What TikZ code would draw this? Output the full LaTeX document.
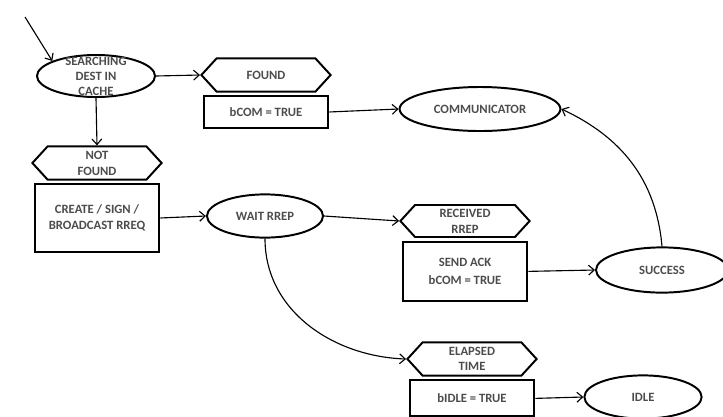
\documentclass[tikz,border=0pt]{standalone}
\usepackage{fontspec}
\setmainfont{Carlito}
\usepackage{tikz}
\usetikzlibrary{positioning,shapes.geometric,shapes.symbols,arrows.meta}

\tikzset{
	txt/.style={font=\fontsize{9}{11}\selectfont\bfseries, text=black!70, align=center},
	state/.style={txt, ellipse, draw, line width=1.4pt, inner sep=0pt},
	cond/.style={txt, signal, signal to=east and west, signal pointer angle=95, draw, line width=1.4pt, minimum width=3.23cm, minimum height=0.83cm, inner sep=0pt},
	act/.style={txt, rectangle, draw, line width=1.4pt, minimum width=3.12cm, inner sep=0pt},
	conn/.style={-{Straight Barb[length=4pt,width=7pt]}, line width=0.8pt}
}

\begin{document}
\begin{tikzpicture}[x=0.025cm,y=-0.025cm,node distance=0.07cm]
	\useasboundingbox (0,0) rectangle (723,416);
	\clip (0,0) rectangle (723,416);

	\node [state, minimum width=2.95cm, minimum height=1.05cm, label={[txt, font=\fontsize{9}{10.6}\selectfont\bfseries]center:SEARCHING\\DEST IN\\CACHE}] (search) at (96,76) {};
	\node [cond] (found) at (266,75) {FOUND};
	\node [act, minimum height=0.78cm, below=of found] (bcom) {bCOM = TRUE};
	\node [state, minimum width=4.02cm, minimum height=1.1cm] (comm) at (480,109) {COMMUNICATOR};

	\node [cond, font=\fontsize{9}{11.3}\selectfont\bfseries] (notfound) at (97,163) {NOT\\FOUND};
	\node [act, minimum height=1.68cm, below=of notfound] (create) {CREATE / SIGN /\\BROADCAST RREQ};
	\node [state, minimum width=2.9cm, minimum height=1.08cm] (wait) at (265,216) {WAIT RREP};

	\node [cond, minimum height=0.8cm, font=\fontsize{9}{11.3}\selectfont\bfseries] (received) at (465,221) {RECEIVED\\RREP};
	\node [act, minimum height=1.48cm, below=of received, font=\fontsize{9}{12.8}\selectfont\bfseries] (sendack) {SEND ACK\\bCOM = TRUE};
	\node [state, minimum width=3.3cm, minimum height=1.13cm] (success) at (662,270) {SUCCESS};

	\node [cond, font=\fontsize{9}{10.5}\selectfont\bfseries] (elapsed) at (472,359) {ELAPSED\\TIME};
	\node [act, minimum height=0.9cm, below=of elapsed] (bidle) {bIDLE = TRUE};
	\node [state, minimum width=2.93cm, minimum height=1.08cm] (idle) at (643,397) {IDLE};

	\coordinate (start) at (25,17);

	\draw [conn] (start) -- (search.161);
	\draw [conn] (search.east) -- (found.west);
	\draw [conn] (search.south) -- (notfound.north);
	\draw [conn] (bcom.east) -- (comm.west);
	\draw [conn] (create.east) -- (wait.west);
	\draw [conn] (wait.east) -- (received.west);
	\draw [conn] (wait.south) to[out=-90,in=178] (elapsed.west);
	\draw [conn] (sendack.east) -- (success.west);
	\draw [conn] (success.north) to[out=95,in=-25] (comm.east);
	\draw [conn] (bidle.east) -- (idle.west);
\end{tikzpicture}
\end{document}
